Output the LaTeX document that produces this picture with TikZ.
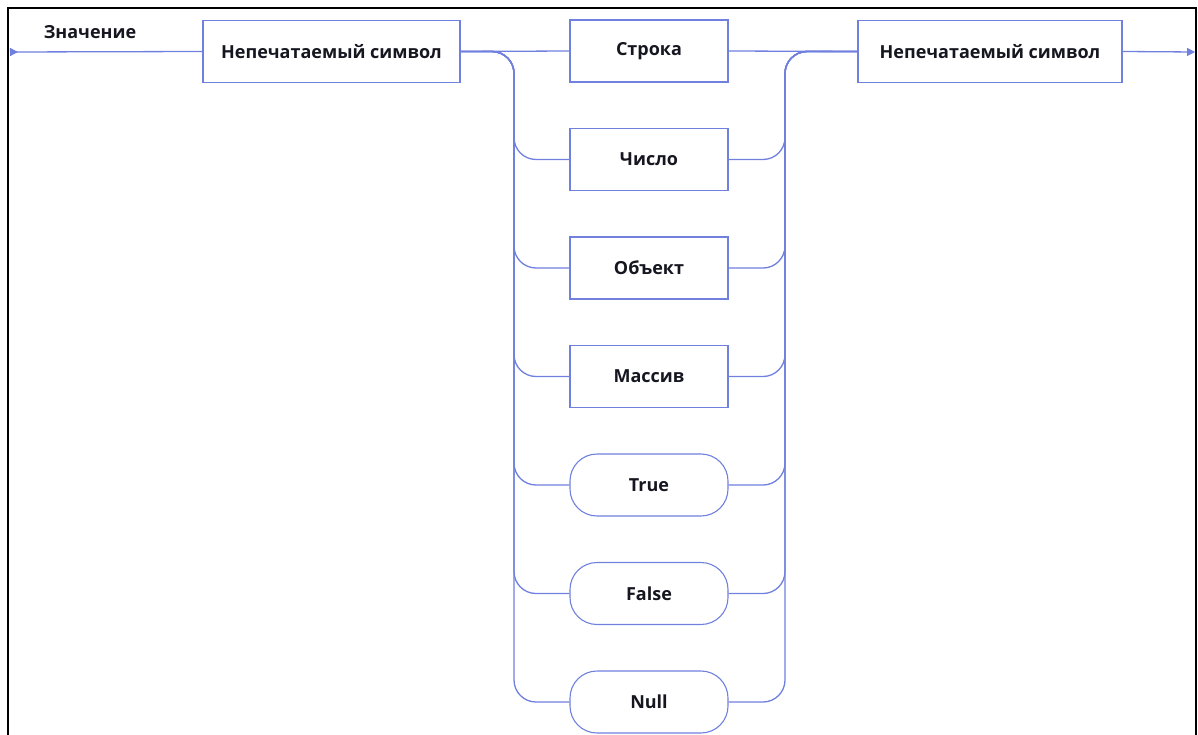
\documentclass[tikz,border=0pt]{standalone}
\usepackage{fontspec}
\setmainfont{Open Sans}
\usetikzlibrary{arrows.meta}
\definecolor{rail}{RGB}{112,128,222}
\definecolor{ink}{RGB}{22,22,32}
\tikzset{
  railline/.style={draw=rail, line width=1.3pt, rounded corners=22pt},
  lbl/.style={font=\fontsize{18}{21}\selectfont\bfseries, text=ink},
  term/.style={draw=rail, line width=1.1pt, minimum width=158pt, minimum height=62pt, inner sep=0pt, lbl},
  sqbox/.style={term},
  rndbox/.style={term, rounded corners=27pt},
}
\begin{document}
\begin{tikzpicture}[x=1pt,y=-1pt]
\useasboundingbox (0,0) rectangle (1198,735);
\draw[black, line width=2pt] (8,740) -- (8,8) -- (1196,8) -- (1196,740);
\node[lbl] (title) at (90,32) {Значение};
\coordinate (start) at (10,52);
\coordinate (finish) at (1195,52);
\node[sqbox, minimum width=257pt] (ws1) at (331.5,51.5) {Непечатаемый символ};
\node[sqbox, minimum width=264pt] (ws2) at (990,51.5) {Непечатаемый символ};
\node[sqbox] (r1) at (649,51) {Строка};
\node[sqbox] (r2) at (649,159.5) {Число};
\node[sqbox] (r3) at (649,268) {Объект};
\node[sqbox] (r4) at (649,376.5) {Массив};
\node[rndbox] (r5) at (649,485) {True};
\node[rndbox] (r6) at (649,593.5) {False};
\node[rndbox] (r7) at (649,702) {Null};
\coordinate (L) at (514,51.5);
\coordinate (R) at (785,51.5);
\draw[railline, {Triangle[reversed,length=8pt,width=8pt]}-] (start) -- (ws1.west);
\draw[railline] (ws1.east) -- (r1.west);
\draw[railline] (r1.east) -- (ws2.west);
\foreach \r in {r2,r3,r4,r5,r6,r7}{
  \draw[railline] (ws1.east) -- (L) |- (\r.west);
  \draw[railline] (\r.east) -| (R) -- (ws2.west);
}
\draw[railline, -{Triangle[length=8pt,width=8pt]}] (ws2.east) -- (finish);
\end{tikzpicture}
\end{document}
